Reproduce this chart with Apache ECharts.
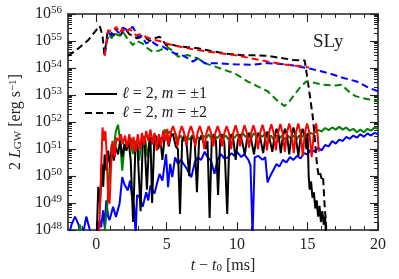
<!DOCTYPE html>
<html><head><meta charset="utf-8">
<script src="https://cdn.jsdelivr.net/npm/echarts@6/dist/echarts.min.js"></script>
<style>html,body{margin:0;padding:0;background:#fff}#c{width:399px;height:279px}</style>
</head><body><div id="c"></div>
<script>
const FONT = '"Liberation Serif", "DejaVu Serif", serif';
const INK = '#222';

// axis ticks
const xMajor = [0, 5, 10, 15, 20];
const xMinor = [-1, 1, 2, 3, 4, 6, 7, 8, 9, 11, 12, 13, 14, 16, 17, 18, 19];
const yDecadeExps = [48, 49, 50, 51, 52, 53, 54, 55, 56];
const yMinorFactors = [2, 3, 4, 5, 6, 7, 8, 9];

// series: [t - t0 (ms), log10(2 L_GW / erg s^-1)]
const blackDashed = [[-2,54.45],[-1.27,54.72],[-0.57,55.03],[0.25,55.56],[0.45,55.2],[0.58,54.5],[0.7,54.9],[0.8,55.3],[1.0,55.35],[1.2,55.2],[1.43,55.3],[1.7,55.2],[1.9,55.35],[2.14,55.4],[2.35,55.25],[2.6,55.2],[2.9,55.1],[3.2,55.15],[3.55,55.1],[3.8,55.0],[4.1,55.1],[4.5,55.16],[4.75,55.0],[4.96,54.85],[5.34,54.87],[5.7,54.82],[6.17,54.79],[6.7,54.76],[7.22,54.73],[8.16,54.63],[9.1,54.54],[10.28,54.48],[11.2,54.47],[12.17,54.45],[13.25,54.36],[14.0,54.3],[14.8,54.28],[15.05,53.4],[15.37,52.2],[15.5,51.5],[15.6,50.8],[15.7,50.3],[15.8,50.0],[15.9,50.1],[16.0,49.9],[16.1,50.0],[16.2,49.0],[16.3,48.3],[16.35,47.8]];
const redDashed = [[0.6,54.45],[0.72,54.9],[0.85,55.4],[1.1,55.35],[1.43,55.52],[1.65,55.3],[1.85,55.45],[2.1,55.3],[2.35,55.45],[2.6,55.35],[2.85,55.2],[3.1,55.25],[3.55,55.15],[4.0,55.05],[4.5,55.0],[4.96,54.92],[5.4,54.85],[6.2,54.76],[7.0,54.68],[8.0,54.6],[8.9,54.54],[9.8,54.48],[11.0,54.36],[12.17,54.24],[13.5,54.12],[14.66,54.06],[15.1,54.02]];
const blueDashed = [[0.6,54.5],[0.75,55.0],[0.9,55.3],[1.1,55.2],[1.35,55.45],[1.6,55.3],[1.9,55.5],[2.2,55.4],[2.6,55.52],[2.97,55.16],[3.2,55.2],[3.55,54.91],[3.9,55.0],[4.3,54.85],[4.7,54.8],[5.1,54.67],[5.58,54.54],[6.0,54.5],[6.52,54.36],[6.87,54.24],[7.22,54.36],[7.7,54.18],[8.64,54.18],[9.8,54.14],[11.0,54.12],[12.17,54.18],[13.7,54.12],[15.13,53.98],[16.5,53.81],[17.5,53.64],[18.5,53.5],[19.4,53.26],[20.0,53.14]];
const greenDashed = [[0.6,54.5],[0.75,55.0],[0.9,55.25],[1.1,55.1],[1.3,55.3],[1.6,55.2],[1.9,55.35],[2.2,55.1],[2.6,54.85],[2.9,55.0],[3.3,54.9],[3.6,54.75],[4.0,54.6],[4.5,54.65],[5.0,54.79],[5.4,54.65],[5.8,54.42],[6.5,54.48],[7.2,54.36],[7.7,54.18],[8.4,54.06],[9.1,53.93],[9.8,53.81],[10.76,53.5],[11.46,53.32],[12.17,53.14],[12.78,52.83],[13.37,52.59],[13.72,52.77],[14.43,53.26],[14.9,53.5],[15.5,53.45],[16.07,53.38],[17.0,53.35],[17.4,53.38],[18.0,53.1],[18.4,52.96],[19.2,52.85],[20.0,52.8]];

const blackSolid = [[-2,47.5],[-0.05,47.5],[0.05,48.0],[0.15,49.6],[0.28,49.0],[0.4,50.45],[0.5,49.6],[0.6,50.8],[0.72,50.2],[0.85,50.94],[1.0,50.3],[1.1,51.18],[1.25,50.57],[1.4,51.06],[1.55,50.8],[1.7,51.3],[1.85,50.7],[2.0,51.18],[2.15,50.94],[2.3,51.3],[2.45,50.6],[2.62,48.3],[2.78,51.05],[2.92,51.2],[3.15,48.7],[3.3,51.2],[3.42,51.4],[3.6,49.5],[3.75,51.2],[3.85,51.45],[3.97,49.0],[4.12,51.3],[4.25,51.5],[4.4,51.0],[4.55,51.4],[4.7,50.6],[4.85,51.4],[5.0,51.5],[5.15,51.1],[5.3,51.5],[5.45,51.55],[5.65,51.1],[5.8,51.0],[5.95,48.6],[6.1,51.3],[6.25,51.5],[6.4,51.3],[6.6,50.0],[6.75,51.35],[6.9,51.5],[7.0,51.2],[7.15,49.4],[7.3,51.3],[7.45,51.5],[7.6,51.3],[7.75,51.0],[7.9,51.3],[8.05,48.45],[8.2,51.35],[8.35,51.55],[8.5,51.3],[8.65,49.3],[8.8,51.35],[8.95,51.55],[9.1,51.2],[9.3,48.6],[9.45,51.3],[9.6,51.55],[9.75,51.3],[9.9,50.6],[10.05,51.3],[10.2,51.55],[10.35,51.3],[10.55,50.8],[10.7,51.35],[10.85,51.6],[11.0,51.35],[11.2,50.8],[11.35,51.35],[11.5,51.6],[11.65,51.4],[11.85,50.85],[12.0,51.4],[12.15,51.65],[12.3,51.4],[12.5,50.9],[12.65,51.45],[12.8,51.75],[12.95,51.5],[13.1,50.85],[13.25,51.45],[13.4,51.75],[13.55,51.5],[13.7,50.8],[13.85,51.45],[14.0,51.8],[14.15,51.5],[14.35,50.75],[14.5,51.45],[14.65,51.75],[14.8,51.5],[14.92,51.0],[15.0,51.6],[15.08,50.0],[15.15,49.5],[15.25,49.8],[15.35,49.2],[15.45,49.4],[15.55,48.8],[15.65,49.1],[15.75,48.5],[15.85,48.9],[15.95,48.3],[16.05,48.7],[16.15,48.2],[16.25,48.5],[16.3,47.8]];
const redSolid = [[0.2,47.8],[0.35,50.2],[0.45,51.8],[0.55,51.3],[0.65,51.67],[0.75,50.8],[0.85,49.2],[0.95,48.98],[1.05,50.3],[1.15,51.3],[1.3,50.7],[1.45,51.42],[1.6,51.3],[1.75,51.55],[1.9,51.18],[2.05,51.5],[2.2,51.06],[2.35,51.55],[2.5,50.95],[2.65,51.45],[2.8,50.9],[2.95,51.55],[3.1,51.0],[3.25,51.6],[3.4,51.15],[3.55,51.67],[3.7,51.3],[3.85,51.73],[4.0,51.18],[4.15,51.6],[4.3,50.94],[4.45,51.55],[4.6,51.1],[4.75,51.67],[4.9,51.3],[5.05,51.75],[5.13,51.15],[5.29,51.6],[5.45,51.85],[5.61,51.6],[5.77,51.1],[5.92,51.6],[6.08,51.85],[6.24,51.6],[6.4,51.15],[6.56,51.6],[6.72,51.85],[6.88,51.6],[7.04,51.1],[7.19,51.6],[7.35,51.85],[7.51,51.6],[7.67,51.0],[7.83,51.6],[7.99,51.85],[8.15,51.6],[8.31,51.1],[8.46,51.6],[8.62,51.85],[8.78,51.6],[8.94,51.1],[9.1,51.6],[9.26,51.85],[9.42,51.6],[9.58,51.0],[9.73,51.6],[9.89,51.88],[10.05,51.6],[10.21,51.1],[10.37,51.6],[10.53,51.88],[10.69,51.6],[10.85,51.05],[11.0,51.6],[11.16,51.88],[11.32,51.6],[11.48,51.0],[11.64,51.6],[11.8,51.9],[11.96,51.6],[12.12,50.95],[12.27,51.6],[12.43,51.92],[12.59,51.6],[12.75,50.95],[12.91,51.6],[13.07,51.93],[13.23,51.6],[13.39,50.9],[13.54,51.6],[13.7,51.95],[13.86,51.6],[14.02,50.85],[14.18,51.6],[14.34,51.95],[14.5,51.6],[14.66,50.75],[14.81,51.6],[14.97,51.95],[15.13,51.6],[15.29,50.7],[15.45,51.6],[15.61,51.95],[15.72,51.5],[15.8,50.9]];
const greenSolid = [[-2,47.5],[-1.3,47.7],[-1.15,48.2],[-1.0,47.7],[0.55,47.7],[0.8,48.98],[0.95,50.3],[1.1,50.7],[1.25,51.06],[1.4,51.67],[1.55,51.9],[1.7,51.3],[1.85,50.2],[2.0,51.06],[2.15,51.3],[2.3,51.06],[2.45,51.43],[2.6,50.81],[2.75,51.3],[2.9,51.18],[3.05,50.57],[3.2,51.3],[3.35,51.49],[3.5,51.3],[3.65,50.69],[3.8,51.36],[3.95,51.18],[4.1,51.55],[4.25,51.3],[4.4,51.06],[4.55,51.43],[4.7,51.3],[4.85,51.73],[5.0,51.55],[5.2,51.65],[5.4,51.5],[5.6,51.6],[5.8,51.35],[6.0,51.5],[6.2,51.3],[6.4,51.45],[6.6,51.35],[6.8,51.5],[7.0,51.3],[7.2,51.45],[7.4,51.35],[7.6,51.5],[7.8,51.4],[8.0,51.55],[8.2,51.35],[8.4,51.5],[8.6,51.4],[8.8,51.55],[9.0,51.4],[9.2,51.5],[9.4,51.35],[9.6,51.55],[9.8,51.4],[10.0,51.55],[10.2,51.45],[10.4,51.6],[10.6,51.45],[10.8,51.55],[11.0,51.4],[11.2,51.6],[11.4,51.45],[11.6,51.55],[11.8,51.45],[12.0,51.6],[12.2,51.4],[12.4,51.5],[12.6,51.35],[12.8,51.5],[13.0,51.4],[13.2,51.5],[13.4,51.35],[13.6,51.5],[13.8,51.4],[14.0,51.5],[14.2,51.35],[14.4,51.5],[14.6,51.45],[14.8,51.55],[15.0,51.5],[15.2,51.6],[15.4,51.55],[15.6,51.65],[15.8,51.7],[16.0,51.65],[16.25,51.78],[16.5,51.7],[16.75,51.8],[17.0,51.72],[17.25,51.82],[17.5,51.72],[17.75,51.8],[18.0,51.68],[18.25,51.75],[18.5,51.62],[18.75,51.72],[19.0,51.62],[19.25,51.75],[19.5,51.68],[19.75,51.8],[20.0,51.75]];
const blueSolid = [[-2,47.7],[-1.75,48.2],[-1.5,48.5],[-1.25,48.2],[-1.05,47.6],[-0.95,47.8],[-0.7,48.5],[-0.45,48.0],[-0.3,47.7],[0.0,47.7],[0.25,48.37],[0.35,48.1],[0.49,48.73],[0.6,48.1],[0.72,49.1],[0.85,48.5],[0.95,48.37],[1.2,48.86],[1.4,48.49],[1.66,48.98],[1.85,49.96],[2.0,49.7],[2.25,49.47],[2.4,49.83],[2.55,49.2],[2.7,48.86],[2.8,47.8],[2.9,49.3],[3.08,49.22],[3.3,48.86],[3.55,49.4],[3.7,49.1],[3.85,49.65],[4.14,49.35],[4.3,49.7],[4.5,50.08],[4.7,49.83],[4.96,50.81],[5.1,49.59],[5.25,50.45],[5.4,49.96],[5.6,50.69],[5.8,50.45],[6.0,50.6],[6.4,50.3],[6.75,49.96],[7.0,50.5],[7.2,50.69],[7.45,50.6],[7.7,50.9],[7.9,50.7],[8.15,50.57],[8.4,50.08],[8.6,50.6],[8.86,50.81],[9.1,50.65],[9.34,50.69],[9.6,50.85],[9.8,50.75],[10.0,50.9],[10.3,50.7],[10.5,50.81],[10.8,50.6],[10.95,50.4],[11.1,47.8],[11.25,50.69],[11.5,50.75],[11.8,50.6],[12.0,50.7],[12.16,49.77],[12.35,50.0],[12.55,50.2],[12.8,50.45],[13.0,50.35],[13.25,50.6],[13.5,50.5],[13.75,50.7],[14.0,50.6],[14.25,50.75],[14.5,50.65],[14.75,50.85],[15.0,50.8],[15.25,51.0],[15.5,50.9],[15.75,51.05],[16.0,50.95],[16.25,51.15],[16.5,51.1],[16.75,51.3],[17.0,51.2],[17.25,51.35],[17.5,51.3],[17.75,51.45],[18.0,51.38],[18.25,51.5],[18.5,51.42],[18.75,51.55],[19.0,51.45],[19.25,51.58],[19.5,51.5],[19.75,51.6],[20.0,51.55]];

const pow10 = e => Number('1e' + e);
const yMajorValues = yDecadeExps.map(pow10);
const yMinorValues = [];
yDecadeExps.slice(0, -1).forEach(e => yMinorFactors.forEach(f => yMinorValues.push(f * pow10(e))));
const toData = arr => arr.map(p => [p[0], Math.pow(10, p[1])]);

const lineStyleAxis = {color: INK, width: 1.6};
const tickMajor = vals => ({show: true, inside: true, length: 8, customValues: vals, lineStyle: {color: INK, width: 1.1}});
const tickMinor = vals => ({show: true, inside: true, length: 4, customValues: vals, lineStyle: {color: INK, width: 1}});

function xAx(pos, ticks, showLine, extra) {
  return Object.assign({type: 'value', position: pos, min: -2, max: 20,
    axisLine: {show: showLine, onZero: false, lineStyle: lineStyleAxis},
    axisTick: ticks, axisLabel: {show: false}, splitLine: {show: false}}, extra || {});
}
function yAx(pos, ticks, showLine, extra) {
  return Object.assign({type: 'log', logBase: 10, position: pos, min: 1e48, max: 1e56,
    axisLine: {show: showLine, onZero: false, lineStyle: lineStyleAxis},
    axisTick: ticks, axisLabel: {show: false}, splitLine: {show: false}, minorSplitLine: {show: false}}, extra || {});
}

const richBase = {
  it: {fontFamily: FONT, fontStyle: 'italic', fontSize: 16, color: INK},
  sub: {fontFamily: FONT, fontSize: 11, color: INK, verticalAlign: 'bottom', lineHeight: 12},
  sup: {fontFamily: FONT, fontSize: 11, color: INK, verticalAlign: 'top', lineHeight: 12}
};

function solid(name, color, arr, z) {
  return {type: 'line', name, data: toData(arr), symbol: 'none', showSymbol: false, animation: false, z,
    lineStyle: {color, width: 2}, itemStyle: {color}};
}
function dashed(name, color, arr, z) {
  return {type: 'line', name, data: toData(arr), symbol: 'none', showSymbol: false, animation: false, z,
    lineStyle: {color, width: 2, type: [7, 4]}, itemStyle: {color}};
}

const legendNames = {m1: '{it|ℓ} = 2, {it|m} = ±1', m2: '{it|ℓ} = 2, {it|m} = ±2'};

const chart = echarts.init(document.getElementById('c'), null, {renderer: 'canvas'});
chart.setOption({
  backgroundColor: '#fff',
  animation: false,
  grid: {left: 68, right: 21, top: 14, bottom: 47, containLabel: false},
  title: {text: 'SLy', left: 308, top: 28, textStyle: {fontFamily: FONT, fontSize: 19, fontWeight: 'normal', color: INK}},
  legend: {
    data: ['m1', 'm2'], orient: 'vertical', left: 79, top: 81, itemWidth: 32, itemHeight: 16, itemGap: 3,
    itemStyle: {opacity: 0},
    formatter: n => legendNames[n],
    textStyle: {fontFamily: FONT, fontSize: 16, color: INK, lineHeight: 16,
      rich: {it: {fontFamily: FONT, fontStyle: 'italic', fontSize: 16, color: INK}}}
  },
  xAxis: [
    xAx('bottom', tickMajor(xMajor), true, {
      axisLabel: {show: true, customValues: xMajor, margin: 7, fontFamily: FONT, fontSize: 16, color: INK},
      name: '{it|t} − {it|t}{sub|0} [ms]', nameLocation: 'middle', nameGap: 25,
      nameTextStyle: {fontFamily: FONT, fontSize: 16, color: INK, rich: richBase}
    }),
    xAx('bottom', tickMinor(xMinor), false),
    xAx('top', tickMajor(xMajor), true),
    xAx('top', tickMinor(xMinor), false)
  ],
  yAxis: [
    yAx('left', tickMajor(yMajorValues), true, {
      axisLabel: {show: true, customValues: yMajorValues, margin: 6,
        formatter: v => '{b|10}{s|' + Math.round(Math.log10(v)) + '}',
        rich: {b: {fontFamily: FONT, fontSize: 16, color: INK, lineHeight: 18},
               s: {fontFamily: FONT, fontSize: 11, color: INK, verticalAlign: 'top', lineHeight: 11}}},
      name: '2 {it|L}{sub|GW} [erg s{sup|−1}]', nameLocation: 'middle', nameGap: 35,
      nameTextStyle: {fontFamily: FONT, fontSize: 16, color: INK, rich: richBase}
    }),
    yAx('left', tickMinor(yMinorValues), false),
    yAx('right', tickMajor(yMajorValues), true),
    yAx('right', tickMinor(yMinorValues), false)
  ],
  series: [
    solid('blue m1', '#0000ff', blueSolid, 2),
    solid('green m1', '#008000', greenSolid, 3),
    solid('m1', '#000000', blackSolid, 4),
    solid('red m1', '#ff0000', redSolid, 5),
    dashed('m2', '#000000', blackDashed, 6),
    dashed('green m2', '#008000', greenDashed, 7),
    dashed('blue m2', '#0000ff', blueDashed, 8),
    dashed('red m2', '#ff0000', redDashed, 9)
  ]
});
</script></body></html>
